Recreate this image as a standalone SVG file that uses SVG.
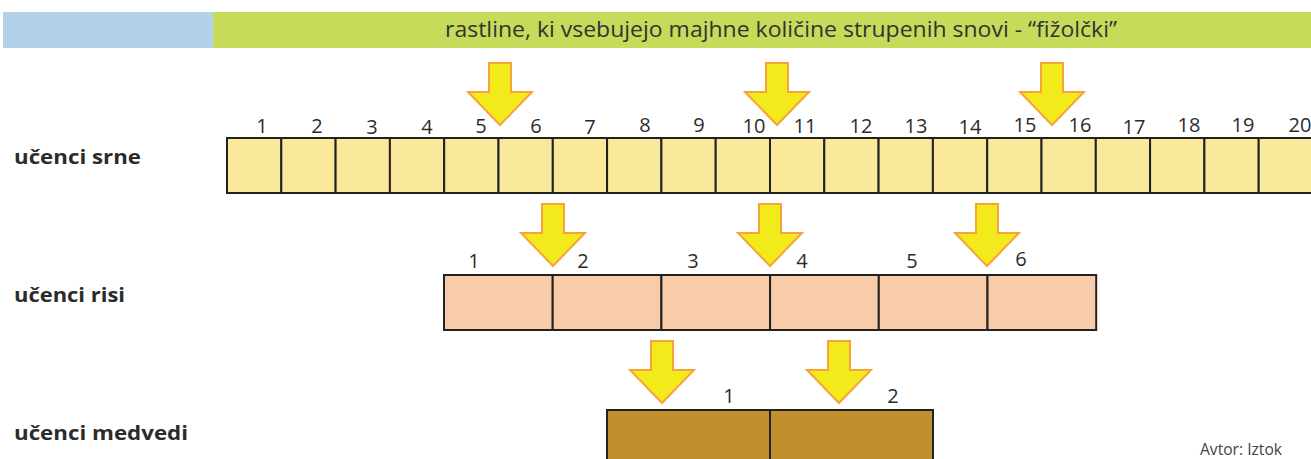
<svg xmlns="http://www.w3.org/2000/svg" width="1311" height="459" viewBox="0 0 1311 459">
<style>
.t{font-family:"Open Sans",Lato,"Noto Sans","Liberation Sans",sans-serif;fill:#2b2b2b}
.num{font-size:20px;text-anchor:middle}
.lbl{font-size:20px;font-weight:bold}
.b1{fill:#fbe99b;stroke:#222;stroke-width:2}
.b2{fill:#f8cbaa;stroke:#222;stroke-width:2}
.b3{fill:#c0902f;stroke:#222;stroke-width:2}
.arr{fill:#f2ea1a;stroke:#f7a33a;stroke-width:2;stroke-linejoin:miter}
</style>
<defs>
<path id="ar" d="M-11,-62 H11 V-33 H32 L0,0 L-32,-33 H-11 Z"/>
</defs>
<rect width="1311" height="459" fill="#fff"/>
<g id="header">
<rect x="3" y="12" width="210" height="36" fill="#b3d1e8"/>
<rect x="213" y="12" width="1098" height="36" fill="#c6db5a"/>
<text class="t" x="445" y="37" font-size="22" textLength="672" lengthAdjust="spacingAndGlyphs" style="fill:#333">rastline, ki vsebujejo majhne količine strupenih snovi - “fižolčki”</text>
</g>
<g id="row-srne">
<text class="t lbl" x="14" y="164" textLength="127" lengthAdjust="spacingAndGlyphs">učenci srne</text>
<rect class="b1" x="227" y="138" width="54.3" height="55"/>
<rect class="b1" x="281.3" y="138" width="54.3" height="55"/>
<rect class="b1" x="335.6" y="138" width="54.3" height="55"/>
<rect class="b1" x="389.9" y="138" width="54.3" height="55"/>
<rect class="b1" x="444.2" y="138" width="54.3" height="55"/>
<rect class="b1" x="498.5" y="138" width="54.3" height="55"/>
<rect class="b1" x="552.8" y="138" width="54.3" height="55"/>
<rect class="b1" x="607.1" y="138" width="54.3" height="55"/>
<rect class="b1" x="661.4" y="138" width="54.3" height="55"/>
<rect class="b1" x="715.7" y="138" width="54.3" height="55"/>
<rect class="b1" x="770" y="138" width="54.3" height="55"/>
<rect class="b1" x="824.3" y="138" width="54.3" height="55"/>
<rect class="b1" x="878.6" y="138" width="54.3" height="55"/>
<rect class="b1" x="932.9" y="138" width="54.3" height="55"/>
<rect class="b1" x="987.2" y="138" width="54.3" height="55"/>
<rect class="b1" x="1041.5" y="138" width="54.3" height="55"/>
<rect class="b1" x="1095.8" y="138" width="54.3" height="55"/>
<rect class="b1" x="1150.1" y="138" width="54.3" height="55"/>
<rect class="b1" x="1204.4" y="138" width="54.3" height="55"/>
<rect class="b1" x="1258.7" y="138" width="54.3" height="55"/>
<g class="t num">
<text x="262" y="133">1</text><text x="317" y="133">2</text><text x="372" y="134">3</text><text x="427" y="134">4</text><text x="481" y="133">5</text><text x="536" y="133">6</text><text x="590" y="134">7</text><text x="645" y="132">8</text><text x="699" y="132">9</text><text x="754" y="133">10</text><text x="805" y="133">11</text><text x="861" y="133">12</text><text x="916" y="133">13</text><text x="970" y="134">14</text><text x="1025" y="132">15</text><text x="1080" y="132">16</text><text x="1134" y="134">17</text><text x="1189" y="132">18</text><text x="1243" y="132">19</text><text x="1300" y="132">20</text>
</g>
</g>
<g id="row-risi">
<text class="t lbl" x="14" y="302" textLength="111" lengthAdjust="spacingAndGlyphs">učenci risi</text>
<rect class="b2" x="444" y="275" width="108.7" height="55"/>
<rect class="b2" x="552.7" y="275" width="108.7" height="55"/>
<rect class="b2" x="661.4" y="275" width="108.7" height="55"/>
<rect class="b2" x="770.1" y="275" width="108.7" height="55"/>
<rect class="b2" x="878.8" y="275" width="108.7" height="55"/>
<rect class="b2" x="987.5" y="275" width="108.7" height="55"/>
<g class="t num">
<text x="474" y="268">1</text><text x="583" y="268">2</text><text x="693" y="268">3</text><text x="802" y="268">4</text><text x="912" y="268">5</text><text x="1021" y="266">6</text>
</g>
</g>
<g id="row-medvedi">
<text class="t lbl" x="14" y="440" textLength="174" lengthAdjust="spacingAndGlyphs">učenci medvedi</text>
<rect class="b3" x="607" y="410" width="163" height="60"/>
<rect class="b3" x="770" y="410" width="163" height="60"/>
<g class="t num">
<text x="729" y="403">1</text><text x="893" y="403">2</text>
</g>
</g>
<g id="connectors">
<use href="#ar" class="arr" x="500" y="125"/>
<use href="#ar" class="arr" x="777" y="125"/>
<use href="#ar" class="arr" x="1052" y="125"/>
<use href="#ar" class="arr" x="553" y="266"/>
<use href="#ar" class="arr" x="770" y="266"/>
<use href="#ar" class="arr" x="987" y="266"/>
<use href="#ar" class="arr" x="662" y="403"/>
<use href="#ar" class="arr" x="839" y="403"/>
</g>
<text class="t" x="1200" y="455" font-size="16" textLength="82" lengthAdjust="spacingAndGlyphs" style="fill:#444">Avtor: Iztok</text>
</svg>
